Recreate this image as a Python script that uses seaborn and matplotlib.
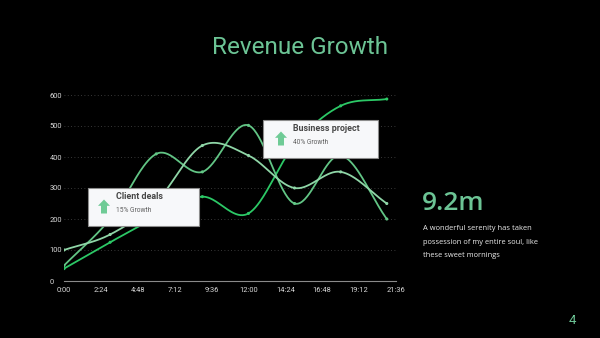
import numpy as np
import pandas as pd
import seaborn as sns
import matplotlib
matplotlib.use("Agg")
import matplotlib.pyplot as plt
from matplotlib.patches import Rectangle, Polygon

# ---- data -------------------------------------------------------------
hours = [0, 3, 6, 9, 12, 15, 18, 21]
series_names = ["Series 1", "Series 2", "Series 3"]
series_1 = [40, 125, 205, 272, 218, 440, 565, 587]
series_2 = [50, 200, 410, 352, 502, 250, 405, 200]
series_3 = [100, 150, 255, 437, 405, 300, 352, 250]
y_ticks = [0, 100, 200, 300, 400, 500, 600]
x_ticks = [0, 2.4, 4.8, 7.2, 9.6, 12, 14.4, 16.8, 19.2, 21.6]
x_tick_labels = ["0:00", "2:24", "4:48", "7:12", "9:36", "12:00",
                 "14:24", "16:48", "19:12", "21:36"]
palette = ["#2cc866", "#62c585", "#8fd6a7"]
accent = "#6cc495"

W, H = 600, 338


def fx(x, y):
    """pixel position -> figure fraction"""
    return x / W, 1 - y / H


def smooth(x, y, n=40):
    """Cubic Hermite curve through the points (Catmull-Rom tangents)."""
    x = np.asarray(x, float)
    y = np.asarray(y, float)
    m = np.empty_like(y)
    m[1:-1] = (y[2:] - y[:-2]) / (x[2:] - x[:-2])
    m[0] = (y[1] - y[0]) / (x[1] - x[0])
    m[-1] = (y[-1] - y[-2]) / (x[-1] - x[-2])
    xs, ys = [], []
    for i in range(len(x) - 1):
        h = x[i + 1] - x[i]
        t = np.linspace(0, 1, n, endpoint=(i == len(x) - 2))
        h00 = 2 * t**3 - 3 * t**2 + 1
        h10 = t**3 - 2 * t**2 + t
        h01 = -2 * t**3 + 3 * t**2
        h11 = t**3 - t**2
        xs.append(x[i] + t * h)
        ys.append(h00 * y[i] + h10 * h * m[i] + h01 * y[i + 1] + h11 * h * m[i + 1])
    return np.concatenate(xs), np.concatenate(ys)


points = pd.DataFrame({
    "hour": hours * 3,
    "value": series_1 + series_2 + series_3,
    "series": sum([[s] * len(hours) for s in series_names], []),
})
curves = []
for name, vals in zip(series_names, [series_1, series_2, series_3]):
    cx, cy = smooth(hours, vals)
    curves.append(pd.DataFrame({"hour": cx, "value": cy, "series": name}))
curves = pd.concat(curves, ignore_index=True)

# ---- figure -----------------------------------------------------------
sns.set_style("dark")
plt.rcParams["font.family"] = ["Roboto", "DejaVu Sans"]

fig = plt.figure(figsize=(W / 100, H / 100), dpi=100, facecolor="black")
ax = fig.add_axes([64 / W, 1 - 281 / H, (396 - 64) / W, (281 - 95) / H])
ax.set_facecolor("black")

sns.lineplot(data=curves, x="hour", y="value", hue="series", palette=palette,
             sort=False, estimator=None, linewidth=1.3, legend=False, ax=ax)
sns.scatterplot(data=points, x="hour", y="value", hue="series", palette=palette,
                s=5, linewidth=0, legend=False, ax=ax, zorder=3)

ax.set_xlim(0, 21.6)
ax.set_ylim(0, 600)
ax.set_xticks(x_ticks)
ax.set_xticklabels(x_tick_labels)
ax.set_yticks(y_ticks)
ax.set_xlabel("")
ax.set_ylabel("")
ax.grid(False)
ax.yaxis.grid(True, linestyle=(0, (1, 3)), color="#4a4a4a", linewidth=0.6)
for s in ["top", "right", "left"]:
    ax.spines[s].set_visible(False)
ax.spines["bottom"].set_color("#8a8a8a")
ax.spines["bottom"].set_linewidth(0.8)
ax.tick_params(axis="both", length=0, labelsize=5.4, labelcolor="#d8d8d8")
ax.tick_params(axis="x", pad=4)
ax.tick_params(axis="y", pad=10.5)
for lab in ax.get_yticklabels():
    lab.set_horizontalalignment("left")

# ---- headings and side text -------------------------------------------
fig.text(*fx(300, 48), "Revenue Growth", color=accent, fontsize=17.5,
         ha="center", va="center", family=["Roboto", "DejaVu Sans"])
fig.text(*fx(422, 203), "9.2m", color=accent, fontsize=19, fontweight="semibold",
         ha="left", va="center", family=["Open Sans", "DejaVu Sans"])
for i, line in enumerate(["A wonderful serenity has taken",
                          "possession of my entire soul, like",
                          "these sweet mornings"]):
    fig.text(*fx(423, 228.5 + 13.7 * i), line, color="#ececec", fontsize=5.4,
             ha="left", va="center", family=["Open Sans", "DejaVu Sans"])
fig.text(*fx(572, 321), "4", color=accent, fontsize=9.5, ha="center", va="center")


# ---- callout cards ----------------------------------------------------
def card(x0, y0, x1, y1, title, sub, ax_x, ax_y):
    bx, by = fx(x0, y1)
    fig.add_artist(Rectangle((bx, by), (x1 - x0) / W, (y1 - y0) / H,
                             transform=fig.transFigure, facecolor="#f7f8fa",
                             edgecolor="#8c8c8c", linewidth=0.8, zorder=5))
    # arrow icon
    aw, ah = 12, 14
    pts = [(ax_x, ax_y + ah * 0.45), (ax_x + aw / 2, ax_y),
           (ax_x + aw, ax_y + ah * 0.45), (ax_x + aw * 0.75, ax_y + ah * 0.45),
           (ax_x + aw * 0.75, ax_y + ah), (ax_x + aw * 0.25, ax_y + ah),
           (ax_x + aw * 0.25, ax_y + ah * 0.45)]
    fig.add_artist(Polygon([fx(px, py) for px, py in pts], closed=True,
                           transform=fig.transFigure, facecolor="#6fcb96",
                           edgecolor="none", zorder=6))
    tx = ax_x + 18
    fig.text(*fx(tx, y0 + 8.5), title, color="#474747", fontsize=6.4,
             fontweight="bold", ha="left", va="center", zorder=7)
    fig.text(*fx(tx, y0 + 22.5), sub, color="#5e5e5e", fontsize=4.8,
             ha="left", va="center", zorder=7)


card(88, 188, 199, 226, "Client deals", "15% Growth", 98, 199.5)
card(263, 120, 378, 158, "Business project", "40% Growth", 275, 131.5)

fig.savefig("out.png", dpi=100, facecolor="black")
